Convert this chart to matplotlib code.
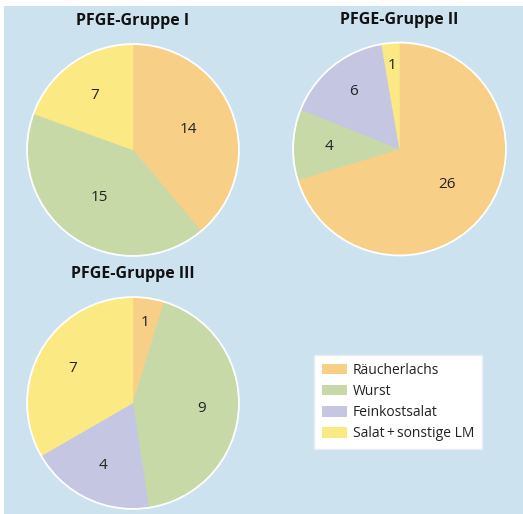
import matplotlib.pyplot as plt
from matplotlib.patches import Patch, Rectangle, Circle
import numpy as np

plt.rcParams['font.family'] = ['Open Sans', 'DejaVu Sans']

# data
categories = ['Räucherlachs', 'Wurst', 'Feinkostsalat', 'Salat\u2009+\u2009sonstige LM']
colors = ['#f8cf87', '#c8d9a8', '#c5c6e2', '#fbe984']
titles = ['PFGE-Gruppe I', 'PFGE-Gruppe II', 'PFGE-Gruppe III']
gruppe1 = [14, 15, 0, 7]
gruppe2 = [26, 4, 6, 1]
gruppe3 = [1, 9, 4, 7]
groups = [gruppe1, gruppe2, gruppe3]

# pie layout in pixels (center x, center y, radius) and label distances
W, H = 523, 514
centers = [(133, 150, 107), (399.5, 149, 107.5), (133, 403, 107)]
label_dist = [[0.56, 0.55, 0.6, 0.63],
              [0.56, 0.66, 0.69, 0.79],
              [0.77, 0.65, 0.66, 0.66]]

fig = plt.figure(figsize=(W / 100, H / 100), dpi=100)
fig.patches.append(Rectangle((4 / W, 0), 1, 1 - 6 / H, transform=fig.transFigure,
                             facecolor='#cde2ef', edgecolor='none', zorder=-10))

for vals, title, (cx, cy, r), dists in zip(groups, titles, centers, label_dist):
    ax = fig.add_axes([(cx - r) / W, 1 - (cy + r) / H, 2 * r / W, 2 * r / H])
    idx = [i for i, v in enumerate(vals) if v > 0]
    v = [vals[i] for i in idx]
    c = [colors[i] for i in idx]
    wedges, _ = ax.pie(v, colors=c, startangle=90, counterclock=False)
    for w, col in zip(wedges, c):
        w.set_edgecolor(col)
        w.set_linewidth(0.3)
    ax.add_patch(Circle((0, 0), 1, facecolor='none', edgecolor='white', linewidth=1.3))
    for w, val, i in zip(wedges, v, idx):
        th = np.deg2rad((w.theta1 + w.theta2) / 2)
        d = dists[i]
        ax.text(d * np.cos(th), d * np.sin(th), str(val), ha='center', va='center',
                fontsize=11, color='#222222')
    ax.set_xlim(-1.01, 1.01)
    ax.set_ylim(-1.01, 1.01)
    ax.set_aspect('equal')
    ax.axis('off')
    fig.text(cx / W, 1 - (cy - r - 22) / H, title, ha='center', va='center',
             fontsize=11.5, fontweight='bold', color='#111111')

handles = [Patch(facecolor=col, edgecolor='none') for col in colors]
leg = fig.legend(handles, categories, loc='upper left', bbox_to_anchor=(314 / W, 1 - 355 / H),
                 borderaxespad=0, fontsize=10, frameon=True, fancybox=False, framealpha=1,
                 handlelength=1.85, handleheight=0.8, handletextpad=0.4,
                 labelspacing=0.45, borderpad=0.55)
leg.get_frame().set_facecolor('white')
leg.get_frame().set_edgecolor('#e6eef4')
leg.get_frame().set_linewidth(1.0)
for t in leg.get_texts():
    t.set_color('#222222')

fig.savefig('out.png', dpi=100)
